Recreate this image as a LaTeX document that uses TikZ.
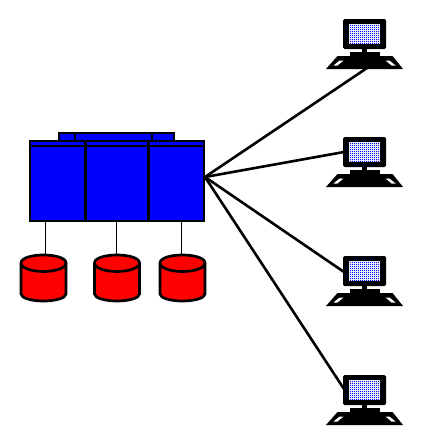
\documentclass[tikz,border=0pt]{standalone}
\definecolor{srvblue}{RGB}{0,0,255}
\definecolor{dskred}{RGB}{255,0,0}
\definecolor{screenbg}{RGB}{235,235,255}
\tikzset{
  px/.style={line width=2.7pt,draw=black,line join=miter},
  link/.style={line width=2.6pt,draw=black},
  thin link/.style={line width=1pt,draw=black},
  server/.style={px,fill=srvblue,rectangle,inner sep=0pt,outer sep=0pt,minimum width=174pt,minimum height=80pt},
  serverlid/.style={px,fill=srvblue,rectangle,inner sep=0pt,outer sep=0pt,minimum width=115pt,minimum height=8pt},
  diskanchor/.style={rectangle,inner sep=0pt,outer sep=0pt,minimum width=46pt,minimum height=47pt},
  pc/.style={rectangle,inner sep=0pt,outer sep=0pt,minimum width=77pt,minimum height=50pt},
  pics/disk/.style={code={
    \draw[px,fill=dskred] (-22.5,-15) .. controls (-22.5,-20) and (-12,-23) .. (0,-23)
      .. controls (12,-23) and (22.5,-20) .. (22.5,-15) -- (22.5,16)
      .. controls (22.5,20) and (12,23) .. (0,23)
      .. controls (-12,23) and (-22.5,20) .. (-22.5,16) -- cycle;
    \draw[px] (-22.5,-15) .. controls (-22.5,-10) and (-12,-6.5) .. (0,-6.5)
      .. controls (12,-6.5) and (22.5,-10) .. (22.5,-15);
  }},
  pics/computer/.style={code={
    % keyboard
    \fill[black] (-27,12) -- (28,12) -- (38.5,25) -- (-38.5,25) -- cycle;
    \fill[white] (-31,21.5) -- (-25,16.5) -- (-21,16.5) -- (-27,21.5) -- cycle;
    \fill[white] (31,21.5) -- (25,16.5) -- (21,16.5) -- (27,21.5) -- cycle;
    % stand
    \fill[black] (-15,8) rectangle (15,13);
    \fill[black] (-3,5) rectangle (2,8);
    % monitor
    \fill[black,rounded corners=1.5pt] (-21.5,-25) rectangle (21.5,5);
    \fill[screenbg] (-15.5,-20) rectangle (15.5,0);
    \foreach \dx in {-14.6,-12.6,...,14} \foreach \dy in {-19.1,-17.1,...,-1}
      \fill[srvblue] (\dx,\dy) rectangle +(1.2,1.2);
  }}
}
\begin{document}
\begin{tikzpicture}[x=1pt,y=-1pt]
\useasboundingbox (0,0) rectangle (422,442);
\node[serverlid] (lid) at (116.5,137) {};
\node[server] (srv) at (117,181) {};
\draw[px] ([yshift=-5pt]srv.north west) -- ([yshift=-5pt]srv.north east);
\draw[px] (75,133) -- (75,141);
\draw[px] (152,133) -- (152,141);
\draw[px] (85.5,141) -- (85.5,221);
\draw[px] (148.7,141) -- (148.7,221);
% disks
\node[diskanchor] (d1) at (43.5,278) {};
\node[diskanchor] (d2) at (117,278) {};
\node[diskanchor] (d3) at (182.5,278) {};
\path (d1) pic {disk};
\path (d2) pic {disk};
\path (d3) pic {disk};
\coordinate (t1) at (45,222);
\coordinate (t2) at (116,222);
\coordinate (t3) at (181,222);
\coordinate (b1) at (45,254);
\coordinate (b2) at (116,254);
\coordinate (b3) at (181,254);
\draw[thin link] (t1) -- (b1);
\draw[thin link] (t2) -- (b2);
\draw[thin link] (t3) -- (b3);
% computers
\node[pc] (c1) at (364.5,44) {};
\node[pc] (c2) at (364.5,162) {};
\node[pc] (c3) at (364.5,281) {};
\node[pc] (c4) at (364.5,400) {};
\path (c1) pic {computer};
\path (c2) pic {computer};
\path (c3) pic {computer};
\path (c4) pic {computer};
\coordinate (hub) at (205,177);
\coordinate (e1) at (367,68);
\coordinate (e2) at (344,152);
\coordinate (e3) at (344,272);
\coordinate (e4) at (344,389);
\draw[link] (hub) -- (e1);
\draw[link] (hub) -- (e2);
\draw[link] (hub) -- (e3);
\draw[link] (hub) -- (e4);
\end{tikzpicture}
\end{document}
